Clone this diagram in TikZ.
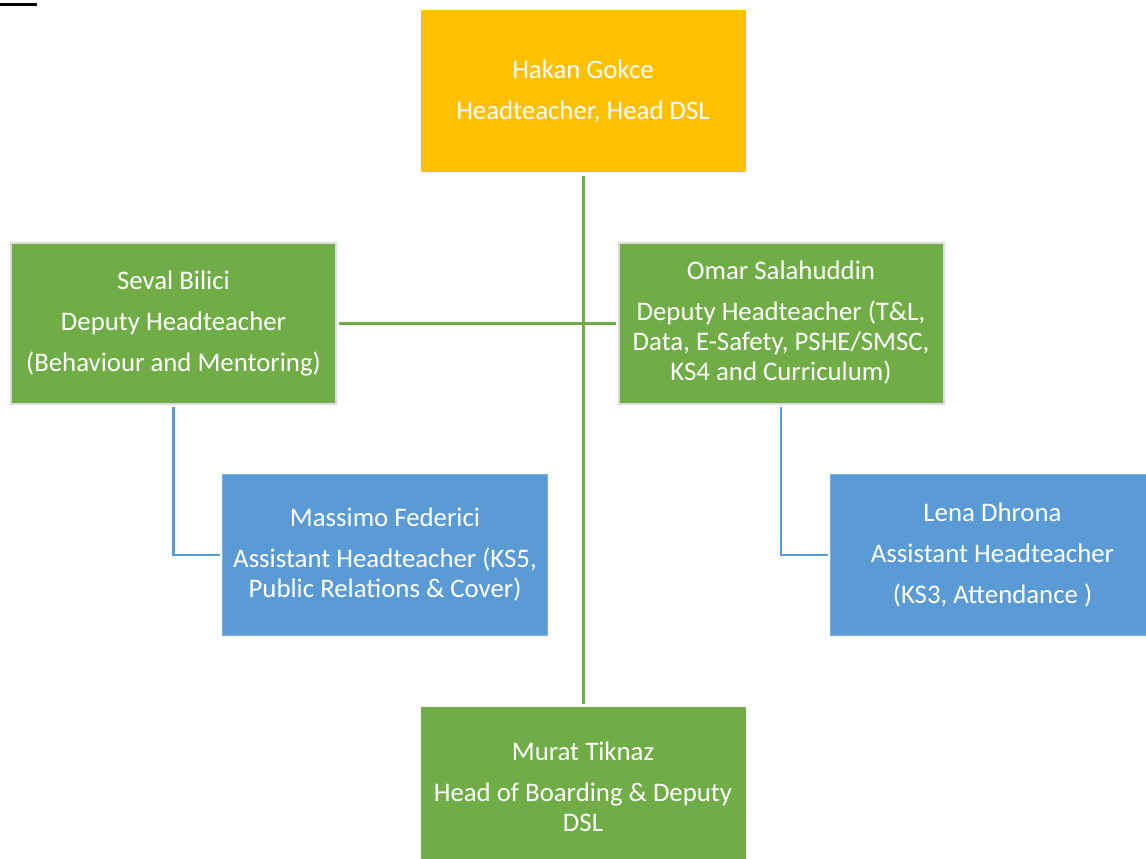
\documentclass[tikz,border=0pt]{standalone}
\usepackage{fontspec}
\setmainfont{Carlito}
\definecolor{hdyellow}{HTML}{FFC000}
\definecolor{hdgreen}{HTML}{70AD47}
\definecolor{hdblue}{HTML}{5B9BD5}
\definecolor{hdedge}{HTML}{DCDCDC}
\tikzset{
  role/.style={rectangle, text=white, align=center, inner sep=0pt,
    minimum width=325pt, minimum height=161pt,
    font=\fontsize{26.8}{30}\selectfont},
  headbox/.style={role, fill=hdyellow},
  deputybox/.style={role, fill=hdgreen, draw=hdedge, line width=2pt},
  assistbox/.style={role, fill=hdblue, draw=hdblue!80!white, line width=1pt},
  greenlink/.style={draw=hdgreen, line width=3pt},
  bluelink/.style={draw=hdblue, line width=2.5pt},
}
\begin{document}
\begin{tikzpicture}[x=1pt,y=-1pt]
  \useasboundingbox (0,0) rectangle (1146,859);
  \clip (0,0) rectangle (1146,859);

  % fragment of an underlined heading at the top-left edge
  \fill[black] (0,3.5) rectangle (37,6);

  \node[headbox]   (head)   at (583,91)
    {Hakan Gokce\\[11pt]Headteacher, Head DSL};
  \node[deputybox] (seval)  at (173.5,323)
    {Seval Bilici\\[11pt]Deputy Headteacher\\[11pt](Behaviour and Mentoring)};
  \node[deputybox] (omar)   at (781,323)
    {Omar Salahuddin\\[11pt]Deputy Headteacher (T\&L,\\Data, E-Safety, PSHE/SMSC,\\KS4 and Curriculum)};
  \node[assistbox] (mass)   at (385,555)
    {Massimo Federici\\[11pt]Assistant Headteacher (KS5,\\Public Relations \& Cover)};
  \node[assistbox] (lena)   at (992.5,555)
    {Lena Dhrona\\[11pt]Assistant Headteacher\\[11pt](KS3, Attendance )};
  \node[role, fill=hdgreen] (murat) at (583,787)
    {Murat Tiknaz\\[11pt]Head of Boarding \& Deputy\\DSL};

  % reporting lines
  \path[greenlink] ([yshift=-4pt]head.south) -- ([yshift=2pt]murat.north);
  \path[greenlink] ([xshift=2pt]seval.east) -- ([xshift=-2pt]omar.west);
  \path[bluelink] ([yshift=-2pt]seval.south) |- ([xshift=-2pt]mass.west);
  \path[bluelink] ([yshift=-2pt]omar.south) |- ([xshift=-2pt]lena.west);
\end{tikzpicture}
\end{document}
